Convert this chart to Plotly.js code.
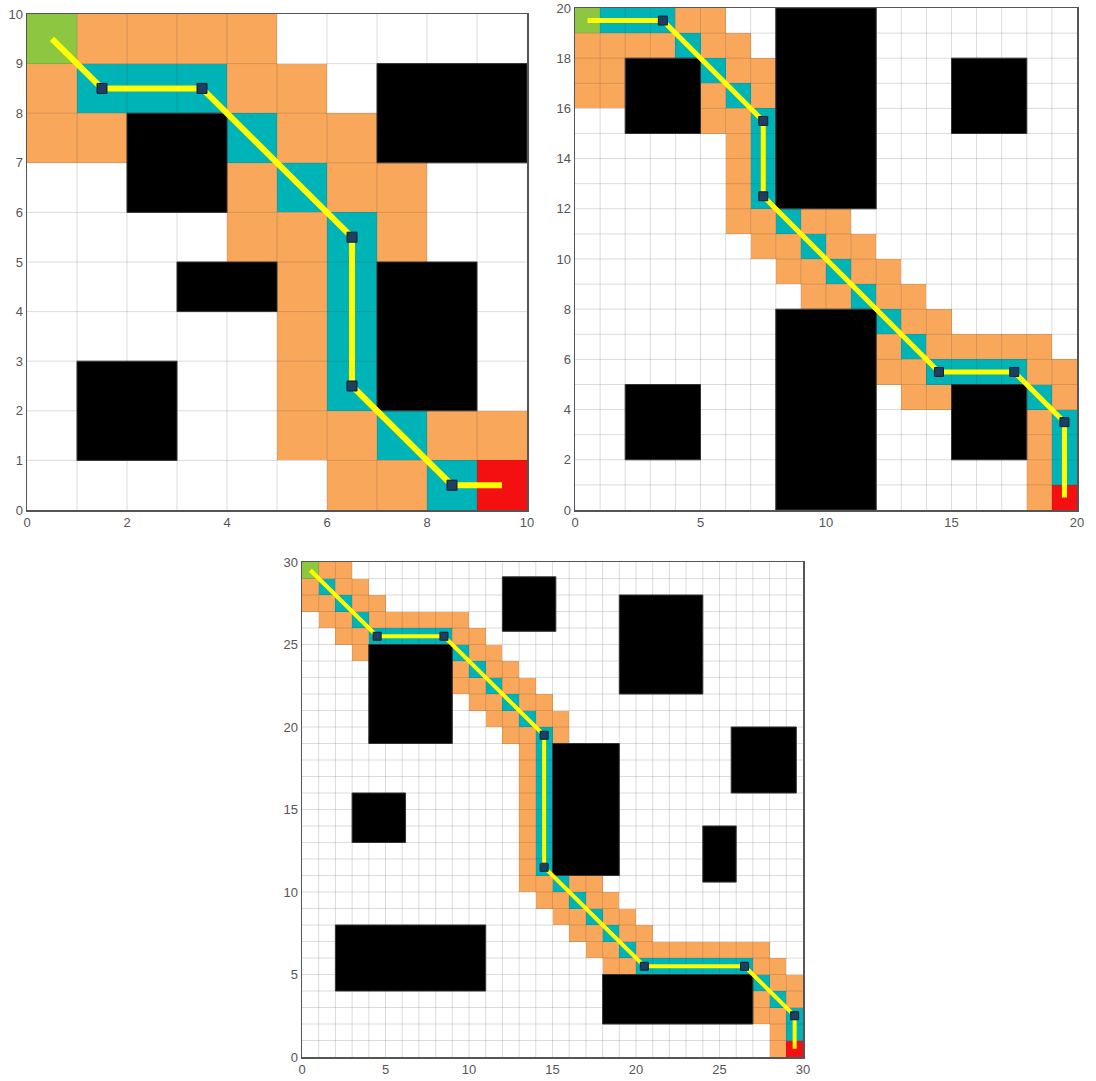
<!DOCTYPE html>
<html>
<head>
<meta charset="utf-8">
<script src="https://cdn.plot.ly/plotly-3.0.1.min.js"></script>
<style>
html,body{margin:0;padding:0;background:#ffffff;}
#chart{width:1096px;height:1081px;}
</style>
</head>
<body>
<div id="chart"></div>
<script>
// ---------- Panel A : 10 x 10 grid ----------
const sizeA = 10;
const startA = [0, 9];
const goalA = [9, 0];
const visitedA = [ // [row y, [columns x]]
  [9, [1, 2, 3, 4]],
  [8, [0, 4, 5]],
  [7, [0, 1, 5, 6]],
  [6, [4, 6, 7]],
  [5, [4, 5, 7]],
  [4, [5]],
  [3, [5]],
  [2, [5]],
  [1, [5, 6, 8, 9]],
  [0, [6, 7]]
];
const pathCellsA = [[1,8],[2,8],[3,8],[4,7],[5,6],[6,5],[6,4],[6,3],[6,2],[7,1],[8,0]];
const obstaclesA = [ // [x0, x1, y0, y1]
  [7, 10, 7, 9], [2, 4, 6, 8], [3, 5, 4, 5], [7, 9, 2, 5], [1, 3, 1, 3]
];
const routeA = [[0.5,9.5],[1.5,8.5],[3.5,8.5],[6.5,5.5],[6.5,2.5],[8.5,0.5],[9.5,0.5]];
const xTicksA = [0, 2, 4, 6, 8, 10];
const yTicksA = [0, 1, 2, 3, 4, 5, 6, 7, 8, 9, 10];

// ---------- Panel B : 20 x 20 grid ----------
const sizeB = 20;
const startB = [0, 19];
const goalB = [19, 0];
const visitedB = [
  [19, [4, 5]],
  [18, [0, 1, 2, 3, 5, 6]],
  [17, [0, 1, 6, 7]],
  [16, [0, 1, 5, 7]],
  [15, [5, 6]],
  [14, [6]],
  [13, [6]],
  [12, [6]],
  [11, [6, 7, 9, 10]],
  [10, [7, 8, 10, 11]],
  [9, [8, 9, 11, 12]],
  [8, [9, 10, 12, 13]],
  [7, [13, 14]],
  [6, [12, 14, 15, 16, 17, 18]],
  [5, [12, 13, 18, 19]],
  [4, [13, 14, 19]],
  [3, [18]],
  [2, [18]],
  [1, [18]],
  [0, [18]]
];
const pathCellsB = [[1,19],[2,19],[3,19],[4,18],[5,17],[6,16],[7,15],[7,14],[7,13],[7,12],[8,11],[9,10],[10,9],[11,8],[12,7],[13,6],[14,5],[15,5],[16,5],[17,5],[18,4],[19,3],[19,2],[19,1]];
const obstaclesB = [
  [8, 12, 12, 20], [8, 12, 0, 8], [2, 5, 15, 18], [15, 18, 15, 18], [2, 5, 2, 5], [15, 18, 2, 5]
];
const routeB = [[0.5,19.5],[3.5,19.5],[7.5,15.5],[7.5,12.5],[14.5,5.5],[17.5,5.5],[19.5,3.5],[19.5,0.5]];
const xTicksB = [0, 5, 10, 15, 20];
const yTicksB = [0, 2, 4, 6, 8, 10, 12, 14, 16, 18, 20];

// ---------- Panel C : 30 x 30 grid ----------
const sizeC = 30;
const startC = [0, 29];
const goalC = [29, 0];
const visitedC = [
  [29, [1, 2]],
  [28, [0, 2, 3]],
  [27, [0, 1, 3, 4]],
  [26, [1, 2, 4, 5, 6, 7, 8, 9]],
  [25, [2, 3, 9, 10]],
  [24, [3, 10, 11]],
  [23, [9, 11, 12]],
  [22, [9, 10, 12, 13]],
  [21, [10, 11, 13, 14]],
  [20, [11, 12, 14, 15]],
  [19, [12, 13, 15]],
  [18, [13]], [17, [13]], [16, [13]], [15, [13]], [14, [13]], [13, [13]], [12, [13]], [11, [13]],
  [10, [13, 14, 16, 17]],
  [9, [14, 15, 17, 18]],
  [8, [15, 16, 18, 19]],
  [7, [16, 17, 19, 20]],
  [6, [17, 18, 20, 21, 22, 23, 24, 25, 26, 27]],
  [5, [18, 19, 27, 28]],
  [4, [28, 29]],
  [3, [27, 29]],
  [2, [27, 28]],
  [1, [28]],
  [0, [28]]
];
const pathCellsC = [[1,28],[2,27],[3,26],[4,25],[5,25],[6,25],[7,25],[8,25],[9,24],[10,23],[11,22],[12,21],[13,20],[14,19],[14,18],[14,17],[14,16],[14,15],[14,14],[14,13],[14,12],[14,11],[15,10],[16,9],[17,8],[18,7],[19,6],[20,5],[21,5],[22,5],[23,5],[24,5],[25,5],[26,5],[27,4],[28,3],[29,2],[29,1]];
const obstaclesC = [
  [12, 15.2, 25.8, 29.1], [19, 24, 22, 28], [4, 9, 19, 25], [25.7, 29.6, 16, 20],
  [3, 6.2, 13, 16], [15, 19, 11, 19], [24, 26, 10.6, 14], [2, 11, 4, 8], [18, 27, 2, 5]
];
const routeC = [[0.5,29.5],[4.5,25.5],[8.5,25.5],[14.5,19.5],[14.5,11.5],[20.5,5.5],[26.5,5.5],[29.5,2.5],[29.5,0.5]];
const xTicksC = [0, 5, 10, 15, 20, 25, 30];
const yTicksC = [0, 5, 10, 15, 20, 25, 30];

// ---------- drawing ----------
const ORANGE = '#F9A75B', TEAL = '#00B3B6', GREEN = '#8DC640', RED = '#F41010';
const traces = [];

function addPanel(n, start, goal, visited, pathCells, obstacles, route, ax, lw, ms) {
  const z = [];
  for (let r = 0; r < n; r++) z.push(new Array(n).fill(0));
  visited.forEach(([y, xs]) => xs.forEach(x => { z[y][x] = 1; }));
  pathCells.forEach(([x, y]) => { z[y][x] = 2; });
  z[start[1]][start[0]] = 3;
  z[goal[1]][goal[0]] = 4;
  const centers = Array.from({length: n}, (_, i) => i + 0.5);
  const xa = 'x' + ax, ya = 'y' + ax;
  traces.push({
    type: 'heatmap', x: centers, y: centers, z: z, zmin: 0, zmax: 4,
    colorscale: [[0, '#ffffff'], [0.25, ORANGE], [0.5, TEAL], [0.75, GREEN], [1, RED]],
    showscale: false, hoverinfo: 'skip', xaxis: xa, yaxis: ya
  });
  // grid lines drawn over the cells
  const gx = [], gy = [];
  for (let i = 1; i < n; i++) {
    gx.push(i, i, null); gy.push(0, n, null);
    gx.push(0, n, null); gy.push(i, i, null);
  }
  traces.push({
    type: 'scatter', mode: 'lines', x: gx, y: gy, connectgaps: false,
    line: {color: 'rgba(60,60,60,0.18)', width: 1}, hoverinfo: 'skip', showlegend: false,
    xaxis: xa, yaxis: ya
  });
  // obstacles
  const ox = [], oy = [];
  obstacles.forEach(([x0, x1, y0, y1]) => {
    ox.push(x0, x1, x1, x0, x0, null);
    oy.push(y0, y0, y1, y1, y0, null);
  });
  traces.push({
    type: 'scatter', mode: 'lines', x: ox, y: oy, fill: 'toself', fillcolor: '#000000',
    line: {color: '#333333', width: 1}, hoverinfo: 'skip', showlegend: false,
    xaxis: xa, yaxis: ya
  });
  // route
  traces.push({
    type: 'scatter', mode: 'lines', x: route.map(p => p[0]), y: route.map(p => p[1]),
    line: {color: '#FFFF00', width: lw}, hoverinfo: 'skip', showlegend: false,
    xaxis: xa, yaxis: ya
  });
  const mids = route.slice(1, -1);
  traces.push({
    type: 'scatter', mode: 'markers', x: mids.map(p => p[0]), y: mids.map(p => p[1]),
    marker: {symbol: 'square', size: ms, color: '#1E3F62', line: {color: '#0B1E30', width: 1}},
    hoverinfo: 'skip', showlegend: false, xaxis: xa, yaxis: ya
  });
}

addPanel(sizeA, startA, goalA, visitedA, pathCellsA, obstaclesA, routeA, '', 6, 10);
addPanel(sizeB, startB, goalB, visitedB, pathCellsB, obstaclesB, routeB, '2', 5, 9);
addPanel(sizeC, startC, goalC, visitedC, pathCellsC, obstaclesC, routeC, '3', 4, 8);

const W = 1096, H = 1081;
function axis(px0, px1, n, ticks, anchor, horizontal) {
  const dom = horizontal ? [px0 / W, px1 / W] : [1 - px1 / H, 1 - px0 / H];
  return {
    domain: dom, range: [0, n], anchor: anchor, tickvals: ticks,
    ticktext: ticks.map(String), showgrid: false, zeroline: false,
    showline: true, mirror: true, linecolor: '#555555', linewidth: 1.5,
    ticks: '', tickfont: {family: 'Liberation Sans, Arial, sans-serif', size: 13, color: '#555555'},
    fixedrange: true
  };
}

const layout = {
  width: W, height: H,
  margin: {l: 0, r: 0, t: 0, b: 0},
  paper_bgcolor: '#ffffff', plot_bgcolor: '#ffffff',
  showlegend: false,
  xaxis: axis(27, 527, sizeA, xTicksA, 'y', true),
  yaxis: axis(14, 510, sizeA, yTicksA, 'x', false),
  xaxis2: axis(575, 1077, sizeB, xTicksB, 'y2', true),
  yaxis2: axis(8, 510, sizeB, yTicksB, 'x2', false),
  xaxis3: axis(302, 803, sizeC, xTicksC, 'y3', true),
  yaxis3: axis(562, 1057, sizeC, yTicksC, 'x3', false)
};

Plotly.newPlot('chart', traces, layout, {staticPlot: true, displayModeBar: false});
</script>
</body>
</html>
